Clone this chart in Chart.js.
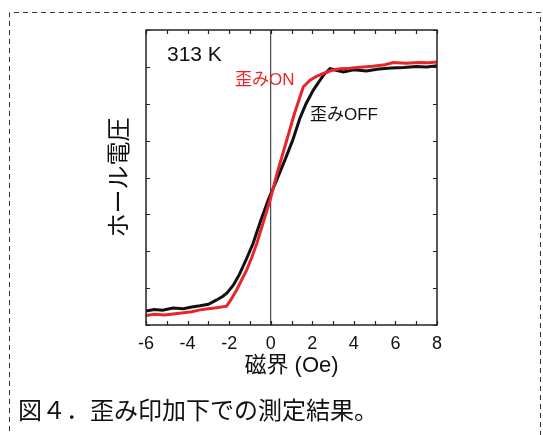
<!DOCTYPE html>
<html>
<head>
<meta charset="utf-8">
<script src="https://cdn.jsdelivr.net/npm/chart.js@4"></script>
<style>
  body { margin: 0; background: #fff; }
  canvas { display: block; }
</style>
</head>
<body>
<canvas id="chart" width="543" height="435"></canvas>
<script>
// 磁界 (Oe) と ホール電圧 (任意単位)
let offField = [-6, -5.6, -5.2, -4.7, -4.2, -3.8, -3.4, -3.0, -2.6, -2.3, -2.1, -1.8, -1.5, -1.2, -0.85, -0.5, -0.12, 0.3, 0.7, 1.05, 1.4, 1.7, 2.05, 2.3, 2.55, 2.85, 3.2, 3.5, 4.0, 4.6, 5.2, 5.8, 6.4, 7.0, 7.5, 8];
let offHall = [0.38, 0.42, 0.40, 0.46, 0.44, 0.49, 0.52, 0.56, 0.68, 0.78, 0.87, 1.08, 1.38, 1.75, 2.21, 2.80, 3.39, 3.95, 4.50, 5.00, 5.60, 6.00, 6.37, 6.58, 6.78, 6.95, 6.90, 6.86, 6.92, 6.89, 6.94, 6.97, 6.98, 7.01, 7.00, 7.03];
let onField = [-6, -5.6, -5.1, -4.7, -4.2, -3.8, -3.4, -3.0, -2.6, -2.12, -1.9, -1.64, -1.4, -1.16, -0.9, -0.67, -0.35, -0.03, 0.35, 0.77, 1.15, 1.57, 1.89, 2.2, 2.53, 2.9, 3.33, 3.8, 4.3, 4.9, 5.5, 5.9, 6.5, 7.1, 7.6, 8];
let onHall = [0.26, 0.29, 0.27, 0.30, 0.33, 0.36, 0.41, 0.44, 0.47, 0.51, 0.70, 0.95, 1.22, 1.49, 1.85, 2.21, 2.80, 3.39, 4.20, 5.01, 5.75, 6.46, 6.64, 6.74, 6.82, 6.90, 6.95, 6.96, 6.99, 7.02, 7.06, 7.12, 7.10, 7.12, 7.11, 7.13];
let zeroField = [0, 0];
let zeroHall = [0, 8];

let xMin = -6, xMax = 8, yMin = 0, yMax = 8;
let xLabels = [-6, -4, -2, 0, 2, 4, 6, 8];

// 図中の注記 (データ座標)
let notes = [
  { text: "313 K", x: -4.99, y: 7.32, color: "#111", size: 21 },
  { text: "歪みON", x: -1.72, y: 6.64, color: "#e8262a", size: 17 },
  { text: "歪みOFF", x: 1.89, y: 5.69, color: "#111", size: 17 },
];
let caption = "図４．歪み印加下での測定結果。";

const FONT = "'Liberation Sans', 'Noto Sans CJK JP', sans-serif";

function toPoints(xs, ys) {
  return xs.map((x, i) => ({ x: x, y: ys[i] }));
}

// 枠・内向き目盛・注記・点線枠・キャプション
const decorations = {
  id: "decorations",
  afterDatasetsDraw(chart) {
    const ctx = chart.ctx;
    const area = chart.chartArea;
    const xs = chart.scales.x;
    const ys = chart.scales.y;
    ctx.save();
    ctx.strokeStyle = "#222";
    ctx.lineWidth = 1.5;
    ctx.strokeRect(area.left, area.top, area.right - area.left, area.bottom - area.top);
    ctx.lineWidth = 1.2;
    ctx.beginPath();
    for (let v = xMin; v <= xMax; v++) {
      let px = Math.round(xs.getPixelForValue(v)) + 0.5;
      ctx.moveTo(px, area.bottom);
      ctx.lineTo(px, area.bottom - 4);
      ctx.moveTo(px, area.top);
      ctx.lineTo(px, area.top + 4);
    }
    for (let v = yMin; v <= yMax; v++) {
      let py = Math.round(ys.getPixelForValue(v)) + 0.5;
      ctx.moveTo(area.left, py);
      ctx.lineTo(area.left + 4, py);
      ctx.moveTo(area.right, py);
      ctx.lineTo(area.right - 4, py);
    }
    ctx.stroke();

    ctx.textBaseline = "middle";
    ctx.textAlign = "left";
    notes.forEach((note) => {
      ctx.fillStyle = note.color;
      ctx.font = note.size + "px " + FONT;
      ctx.fillText(note.text, xs.getPixelForValue(note.x), ys.getPixelForValue(note.y));
    });
    ctx.restore();
  },
  afterDraw(chart) {
    const ctx = chart.ctx;
    ctx.save();
    ctx.strokeStyle = "#333";
    ctx.lineWidth = 1;
    ctx.setLineDash([5, 4]);
    ctx.beginPath();
    ctx.moveTo(9.5, 440);
    ctx.lineTo(9.5, 12.5);
    ctx.lineTo(540.5, 12.5);
    ctx.lineTo(540.5, 440);
    ctx.stroke();
    ctx.setLineDash([]);
    ctx.fillStyle = "#111";
    ctx.font = "24px " + FONT;
    ctx.textBaseline = "middle";
    ctx.textAlign = "left";
    ctx.fillText(caption, 18, 412);
    ctx.restore();
  },
};

new Chart(document.getElementById("chart"), {
  type: "scatter",
  data: {
    datasets: [
      {
        label: "歪みON",
        data: toPoints(onField, onHall),
        showLine: true,
        borderColor: "#e8262a",
        borderWidth: 3,
        pointRadius: 0,
      },
      {
        label: "歪みOFF",
        data: toPoints(offField, offHall),
        showLine: true,
        borderColor: "#111",
        borderWidth: 3,
        pointRadius: 0,
      },
      {
        label: "zero",
        data: toPoints(zeroField, zeroHall),
        showLine: true,
        borderColor: "#222",
        borderWidth: 1,
        pointRadius: 0,
      },
    ],
  },
  options: {
    responsive: false,
    animation: false,
    layout: { padding: { left: 0, right: 106, top: 30, bottom: 0 } },
    plugins: { legend: { display: false }, tooltip: { enabled: false } },
    scales: {
      x: {
        type: "linear",
        position: "bottom",
        min: xMin,
        max: xMax,
        border: { display: false },
        grid: { drawOnChartArea: false, drawTicks: false },
        ticks: {
          stepSize: 1,
          autoSkip: false,
          maxRotation: 0,
          padding: 8,
          color: "#111",
          font: { family: FONT, size: 18 },
          callback: (v) => (xLabels.includes(v) ? String(v) : ""),
        },
        title: {
          display: true,
          text: "磁界 (Oe)",
          color: "#111",
          font: { family: FONT, size: 22 },
          padding: { top: 0, bottom: 56 },
        },
        afterFit: (scale) => {
          scale.height = 110;
        },
      },
      y: {
        type: "linear",
        min: yMin,
        max: yMax,
        border: { display: false },
        grid: { drawOnChartArea: false, drawTicks: false },
        ticks: { stepSize: 1, display: false },
        title: {
          display: true,
          text: "ホール電圧",
          color: "#111",
          font: { family: FONT, size: 24 },
          padding: { top: 106, bottom: 0 },
        },
        afterFit: (scale) => {
          scale.width = 146;
        },
      },
    },
  },
  plugins: [decorations],
});
</script>
</body>
</html>
